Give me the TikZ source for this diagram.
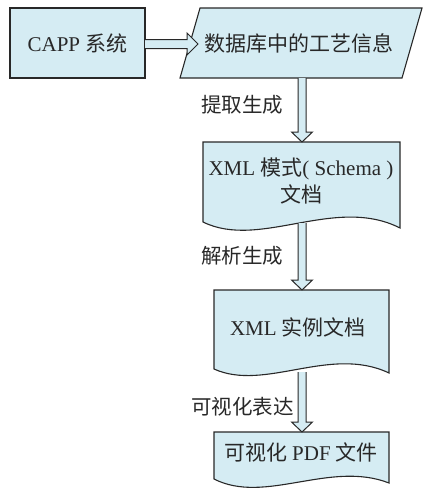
\documentclass[tikz,border=0pt]{standalone}
\usepackage{fontspec}
\setmainfont{Liberation Serif}
\newfontfamily\cjk{Noto Sans CJK SC}
\usetikzlibrary{calc}
\definecolor{boxfill}{RGB}{213,236,243}
\definecolor{ink}{RGB}{40,40,40}
\tikzset{
  shapebox/.style={draw=ink, fill=boxfill, line width=1.1pt},
  txt/.style={text=ink, font=\fontsize{21}{25}\selectfont, align=center, inner sep=0pt},
  lbl/.style={text=ink, font=\fontsize{20.5}{24}\selectfont, inner sep=0pt, anchor=west},
  barrow/.style={draw=ink, fill=boxfill, line width=1pt, line join=miter},
}
\begin{document}
\begin{tikzpicture}[x=1pt,y=-1pt]
\useasboundingbox (0,0) rectangle (424,490);
% CAPP box
\draw[shapebox] (10,8) rectangle (145,78);
\node[txt] (capp) at (77.5,43) {CAPP {\cjk 系统}};
\coordinate (capp-e) at (145,44);
% parallelogram
\draw[shapebox] (200,8) -- (422,8) -- (402,78) -- (180,78) -- cycle;
\node[txt] (db) at (299,43) {\cjk 数据库中的工艺信息};
\coordinate (db-w) at (198,44);
\coordinate (db-s) at (302,78);
% document 1
\draw[shapebox] (203,142) -- (400,142) -- (400,228)
  .. controls (335,195) and (260,250) .. (203,222) -- cycle;
\node[txt] (doc1) at (301,181) {XML {\cjk 模式}( Schema )\\[2pt]{\cjk 文档}};
\coordinate (doc1-n) at (302,142);
\coordinate (doc1-s) at (302,223);
% document 2
\draw[shapebox] (214,290) -- (389,290) -- (389,373)
  .. controls (330,345) and (265,392) .. (214,369) -- cycle;
\node[txt] (doc2) at (298,327) {XML {\cjk 实例文档}};
\coordinate (doc2-n) at (302,290);
\coordinate (doc2-s) at (302,372);
% document 3
\draw[shapebox] (214,432) -- (389,432) -- (389,483)
  .. controls (330,460) and (265,505) .. (214,479) -- cycle;
\node[txt] (pdf) at (301,452) {\cjk 可视化 {\rmfamily PDF} 文件};
\coordinate (pdf-n) at (302,432);
% horizontal block arrow
\draw[barrow] let \p1=(capp-e), \p2=(db-w) in
  (\x1,\y1+4.5pt) -- (\x2-11pt,\y1+4.5pt) -- (\x2-11pt,\y1+11pt) -- (\x2,\y1)
  -- (\x2-11pt,\y1-11pt) -- (\x2-11pt,\y1-4.5pt) -- (\x1,\y1-4.5pt);
% vertical block arrows
\foreach \a/\b in {db-s/doc1-n, doc1-s/doc2-n, doc2-s/pdf-n}{
  \draw[barrow] let \p1=(\a), \p2=(\b) in
    (\x1-4pt,\y1) -- (\x1-4pt,\y2+10pt) -- (\x1-10.5pt,\y2+10pt) -- (\x1,\y2)
    -- (\x1+10.5pt,\y2+10pt) -- (\x1+4pt,\y2+10pt) -- (\x1+4pt,\y1);
}
% labels
\node[lbl] (l1) at (201,105) {\cjk 提取生成};
\node[lbl] (l2) at (201,256) {\cjk 解析生成};
\node[lbl] (l3) at (191,407) {\cjk 可视化表达};
\end{tikzpicture}
\end{document}
